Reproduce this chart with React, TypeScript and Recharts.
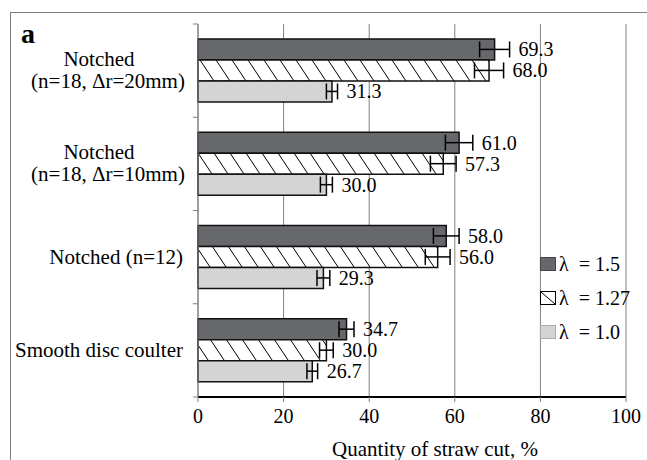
import { BarChart, Bar, XAxis, YAxis, CartesianGrid, ErrorBar, LabelList, ReferenceLine } from "recharts";

const categories = [
  "Notched\n(n=18, Δr=20mm)",
  "Notched\n(n=18, Δr=10mm)",
  "Notched (n=12)",
  "Smooth disc coulter",
];
const lambda15 = [69.3, 61.0, 58.0, 34.7];
const lambda127 = [68.0, 57.3, 56.0, 30.0];
const lambda10 = [31.3, 30.0, 29.3, 26.7];
const err15 = [3.5, 3.2, 3.0, 1.75];
const err127 = [3.4, 3.0, 2.9, 1.6];
const err10 = [1.3, 1.4, 1.5, 1.25];
const seriesNames = ["λ\u00a0\u00a0= 1.5", "λ\u00a0\u00a0= 1.27", "λ\u00a0\u00a0= 1.0"];
const xTicks = [0, 20, 40, 60, 80, 100];

const data = categories.map((name, i) => ({
  name,
  l15: lambda15[i],
  l127: lambda127[i],
  l10: lambda10[i],
  e15: err15[i],
  e127: err127[i],
  e10: err10[i],
}));

const FONT = "'Liberation Serif', 'Times New Roman', serif";
const DARK = "#67686b";
const LIGHT = "#d4d4d4";
const GRID = "#808080";

function CategoryTick(props: any) {
  const { x, y, payload } = props;
  const lines = String(payload.value).split("\n");
  if (lines.length === 1) {
    return (
      <text x={x - 9} y={y + 7} textAnchor="end" fontSize={21} fontFamily={FONT} fill="#000">
        {lines[0]}
      </text>
    );
  }
  return (
    <g fontSize={21} fontFamily={FONT} fill="#000">
      <text x={x - 93} y={y - 5} textAnchor="middle">{lines[0]}</text>
      <text x={x - 84} y={y + 17} textAnchor="middle">{lines[1]}</text>
    </g>
  );
}

// value label placed just past the right whisker of the error bar
function valueLabel(values: number[], errs: number[]) {
  return (props: any) => {
    const vb = props.viewBox ?? props;
    const x = props.x ?? vb.x;
    const y = props.y ?? vb.y;
    const width = props.width ?? vb.width;
    const height = props.height ?? vb.height;
    const i = props.index ?? 0;
    const v = values[i];
    const px = width / v;
    return (
      <text x={x + width + errs[i] * px + 9} y={y + height / 2 + 7} fontSize={20} fontFamily={FONT} fill="#000">
        {v.toFixed(1)}
      </text>
    );
  };
}

export default function App() {
  return (
    <div style={{ position: "absolute", left: 0, top: 0, width: 647, height: 460, overflow: "hidden", background: "#fff" }}>
      <BarChart
        width={647}
        height={460}
        data={data}
        layout="vertical"
        margin={{ top: 24, right: 21, bottom: 0, left: 0 }}
        barCategoryGap="16%"
        barGap={0}
      >
        <defs>
          <pattern id="hatch" patternUnits="userSpaceOnUse" width={16} height={24}>
            <rect width={16} height={24} fill="#fff" />
            <line x1={0} y1={0} x2={16} y2={24} stroke="#000" strokeWidth={1} />
            <line x1={-16} y1={0} x2={0} y2={24} stroke="#000" strokeWidth={1} />
            <line x1={16} y1={0} x2={32} y2={24} stroke="#000" strokeWidth={1} />
          </pattern>
        </defs>
        <CartesianGrid horizontal={false} stroke={GRID} strokeWidth={1} />
        <XAxis
          type="number"
          domain={[0, 100]}
          ticks={xTicks}
          height={63}
          axisLine={{ stroke: "#000", strokeWidth: 2 }}
          tickLine={{ stroke: GRID }}
          tickSize={5}
          tickMargin={7}
          tick={{ fontSize: 20, fontFamily: FONT, fill: "#000" }}
        />
        <YAxis
          type="category"
          dataKey="name"
          width={198}
          axisLine={{ stroke: GRID }}
          tickLine={false}
          tickMargin={0}
          tick={<CategoryTick />}
          interval={0}
        />
        {categories.map((c) => (
          <ReferenceLine
            key={c}
            segment={[{ x: -1.2, y: c }, { x: 0, y: c }]}
            position="end"
            stroke={GRID}
            ifOverflow="visible"
          />
        ))}
        <ReferenceLine
          segment={[{ x: -1.2, y: categories[0] }, { x: 0, y: categories[0] }]}
          position="start"
          stroke={GRID}
          ifOverflow="visible"
        />
        <Bar dataKey="l15" name={seriesNames[0]} fill={DARK} stroke="#111" strokeWidth={1.5} isAnimationActive={false}>
          <ErrorBar dataKey="e15" direction="x" width={8} stroke="#000" strokeWidth={1.5} />
          <LabelList dataKey="l15" content={valueLabel(lambda15, err15)} />
        </Bar>
        <Bar dataKey="l127" name={seriesNames[1]} fill="url(#hatch)" stroke="#111" strokeWidth={1.5} isAnimationActive={false}>
          <ErrorBar dataKey="e127" direction="x" width={8} stroke="#000" strokeWidth={1.5} />
          <LabelList dataKey="l127" content={valueLabel(lambda127, err127)} />
        </Bar>
        <Bar dataKey="l10" name={seriesNames[2]} fill={LIGHT} stroke="#111" strokeWidth={1.5} isAnimationActive={false}>
          <ErrorBar dataKey="e10" direction="x" width={8} stroke="#000" strokeWidth={1.5} />
          <LabelList dataKey="l10" content={valueLabel(lambda10, err10)} />
        </Bar>
      </BarChart>

      <svg width={647} height={460} style={{ position: "absolute", left: 0, top: 0, pointerEvents: "none" }}>
        <rect x={10.5} y={12.5} width={700} height={600} fill="none" stroke={GRID} strokeWidth={1} />
        <text x={21} y={43} fontSize={28} fontWeight="bold" fontFamily={FONT} fill="#000">a</text>
        <text x={435} y={456} textAnchor="middle" fontSize={21} fontFamily={FONT} fill="#000">
          Quantity of straw cut, %
        </text>
        <g fontFamily={FONT} fontSize={20} fill="#000">
          <rect x={540.5} y={257.5} width={15} height={13} fill={DARK} stroke="#444" />
          <text x={559} y={271}>{seriesNames[0]}</text>
          <rect x={540.5} y={291.5} width={15} height={13} fill="#fff" stroke="#000" />
          <line x1={541} y1={292} x2={555} y2={304} stroke="#000" />
          <text x={559} y={305}>{seriesNames[1]}</text>
          <rect x={540.5} y={325.5} width={15} height={13} fill={LIGHT} stroke="#aaa" />
          <text x={559} y={339}>{seriesNames[2]}</text>
        </g>
      </svg>
    </div>
  );
}
